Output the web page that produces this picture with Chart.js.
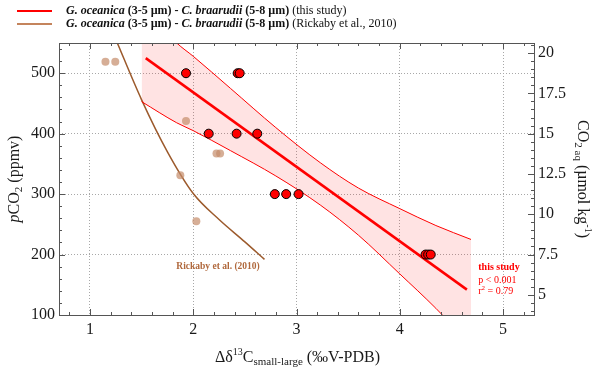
<!DOCTYPE html>
<html lang="en">
<head>
  <meta charset="UTF-8">
  <title>pCO2 vs d13C offset</title>
  <style>
    html, body { margin: 0; padding: 0; background: #fff; }
  </style>
</head>
<body>
  <div>
    <canvas id="myChart" width="600" height="367"></canvas>
  </div>

  <script src="https://cdn.jsdelivr.net/npm/chart.js"></script>

  <script>
    // this study: G. oceanica - C. braarudii offsets
    const studyX = [1.93, 2.43, 2.45, 2.15, 2.42, 2.62, 2.79, 2.90, 3.02, 4.25, 4.275, 4.30];
    const studyY = [500, 500, 500, 400, 400, 400, 300, 300, 300, 200, 200, 200];

    // regression line + confidence band
    const fitX = [1.54, 4.65];
    const fitY = [525, 142];
    const bandX = [1.5, 1.84, 2.0, 2.36, 2.8, 3.23, 3.6, 4.0, 4.35, 4.69];
    const bandUpper = [612, 550, 528, 475, 410, 352, 310, 276, 248, 225];
    const bandLower = [453, 418, 405, 372, 330, 282, 232, 168, 111, 50];

    // Rickaby et al. 2010
    const rickX = [1.15, 1.245, 1.93, 2.225, 2.26, 1.875, 2.03];
    const rickY = [519, 519, 421, 367, 367, 331, 255];
    const rickCurveX = [1.25, 1.5, 1.75, 2.0, 2.25, 2.5, 2.69];
    const rickCurveY = [556, 456, 370, 301, 258, 221, 192];

    // axes
    const xTicks = [1, 2, 3, 4, 5];
    const yTicks = [100, 200, 300, 400, 500];
    const y1Ticks = [5, 7.5, 10, 12.5, 15, 17.5, 20];

    const SERIF = '"Liberation Serif", "Times New Roman", serif';
    const RED = '#ff0000';
    const BROWN = '#9c5a2c';

    const pts = (xs, ys) => xs.map((x, i) => ({ x: x, y: ys[i] }));

    function drawRich(ctx, runs, x, y, align) {
      let total = 0;
      runs.forEach(r => { ctx.font = r.f; r.w = ctx.measureText(r.t).width; total += r.w; });
      let cx = align === 'center' ? x - total / 2 : x;
      runs.forEach(r => {
        ctx.font = r.f;
        ctx.fillText(r.t, cx, y + (r.dy || 0));
        cx += r.w;
      });
    }

    const decor = {
      id: 'decor',
      afterDraw(chart) {
        const ctx = chart.ctx;
        const a = chart.chartArea;
        const sx = chart.scales.x, sy = chart.scales.y, sy1 = chart.scales.y1;
        ctx.save();
        ctx.strokeStyle = '#555';
        ctx.lineWidth = 1;

        // inward ticks
        ctx.beginPath();
        for (let v = 0.8; v < 5.3; v += 0.2) {
          const px = Math.round(sx.getPixelForValue(v)) + 0.5;
          const len = Math.abs(v - Math.round(v)) < 0.01 ? 6 : 3;
          ctx.moveTo(px, a.bottom); ctx.lineTo(px, a.bottom - len);
          ctx.moveTo(px, a.top); ctx.lineTo(px, a.top + len);
        }
        for (let v = 120; v < 550; v += 20) {
          const py = Math.round(sy.getPixelForValue(v)) + 0.5;
          const len = v % 100 === 0 ? 6 : 3;
          ctx.moveTo(a.left, py); ctx.lineTo(a.left + len, py);
        }
        for (let v = 4; v <= 20.5; v += 0.5) {
          const py = Math.round(sy1.getPixelForValue(v)) + 0.5;
          const len = Math.abs(v / 2.5 - Math.round(v / 2.5)) < 0.01 ? 6 : 3;
          ctx.moveTo(a.right, py); ctx.lineTo(a.right - len, py);
        }
        ctx.stroke();

        // frame
        ctx.strokeRect(Math.round(a.left) + 0.5, Math.round(a.top) + 0.5,
          Math.round(a.right - a.left), Math.round(a.bottom - a.top));

        // axis titles
        ctx.fillStyle = '#1a1a1a';
        ctx.textBaseline = 'middle';
        ctx.save();
        ctx.translate(15, (a.top + a.bottom) / 2);
        ctx.rotate(-Math.PI / 2);
        drawRich(ctx, [
          { t: 'p', f: 'italic 16px ' + SERIF },
          { t: 'CO', f: '16px ' + SERIF },
          { t: '2', f: '11px ' + SERIF, dy: 4 },
          { t: ' (ppmv)', f: '16px ' + SERIF }
        ], 0, 0, 'center');
        ctx.restore();

        ctx.save();
        ctx.translate(582, (a.top + a.bottom) / 2);
        ctx.rotate(Math.PI / 2);
        drawRich(ctx, [
          { t: 'CO', f: '16px ' + SERIF },
          { t: '2 aq', f: '11px ' + SERIF, dy: 4 },
          { t: ' (µmol kg', f: '16px ' + SERIF },
          { t: '-1', f: '10px ' + SERIF, dy: -6 },
          { t: ')', f: '16px ' + SERIF }
        ], 0, 0, 'center');
        ctx.restore();

        drawRich(ctx, [
          { t: 'Δδ', f: '16px ' + SERIF },
          { t: '13', f: '10px ' + SERIF, dy: -6 },
          { t: 'C', f: '16px ' + SERIF },
          { t: 'small-large', f: '11px ' + SERIF, dy: 4 },
          { t: ' (‰V-PDB)', f: '16px ' + SERIF }
        ], (a.left + a.right) / 2 + 1, 358, 'center');

        // in-plot labels
        ctx.fillStyle = '#b0683c';
        ctx.font = 'bold 9.5px ' + SERIF;
        ctx.textAlign = 'center';
        ctx.fillText('Rickaby et al. (2010)', sx.getPixelForValue(2.24), sy.getPixelForValue(180));
        ctx.textAlign = 'left';
        ctx.fillStyle = RED;
        const lx = sx.getPixelForValue(4.76);
        ctx.font = 'bold 10px ' + SERIF;
        ctx.fillText('this study', lx, sy.getPixelForValue(179));
        drawRich(ctx, [{ t: 'p < 0.001', f: '10px ' + SERIF }], lx, sy.getPixelForValue(158), 'left');
        drawRich(ctx, [
          { t: 'r', f: '10px ' + SERIF },
          { t: '2', f: '7px ' + SERIF, dy: -3 },
          { t: ' = 0.79', f: '10px ' + SERIF }
        ], lx, sy.getPixelForValue(139.5), 'left');

        // legend
        ctx.lineWidth = 2;
        ctx.strokeStyle = RED;
        ctx.beginPath(); ctx.moveTo(17, 11); ctx.lineTo(52, 11); ctx.stroke();
        ctx.strokeStyle = '#c4845c';
        ctx.beginPath(); ctx.moveTo(17, 24); ctx.lineTo(52, 24); ctx.stroke();
        ctx.fillStyle = '#111';
        const legRuns = tail => [
          { t: 'G. oceanica', f: 'italic bold 12px ' + SERIF },
          { t: ' (3-5 µm) - ', f: 'bold 12px ' + SERIF },
          { t: 'C. braarudii', f: 'italic bold 12px ' + SERIF },
          { t: ' (5-8 µm)', f: 'bold 12px ' + SERIF },
          { t: tail, f: '12px ' + SERIF }
        ];
        drawRich(ctx, legRuns(' (this study)'), 66, 11, 'left');
        drawRich(ctx, legRuns(' (Rickaby et al., 2010)'), 66, 24, 'left');
        ctx.restore();
      }
    };

    const ctx = document.getElementById('myChart').getContext('2d');

    let chart = new Chart(ctx, {
      type: 'scatter',
      plugins: [decor],
      data: {
        datasets: [
          {
            label: 'upper',
            data: pts(bandX, bandUpper),
            showLine: true,
            pointRadius: 0,
            borderColor: RED,
            borderWidth: 1,
            cubicInterpolationMode: 'monotone',
            backgroundColor: 'rgba(255, 0, 0, 0.11)',
            fill: '+1',
            order: 3
          },
          {
            label: 'lower',
            data: pts(bandX, bandLower),
            showLine: true,
            pointRadius: 0,
            borderColor: RED,
            borderWidth: 1,
            cubicInterpolationMode: 'monotone',
            fill: false,
            order: 3
          },
          {
            label: 'fit',
            data: pts(fitX, fitY),
            showLine: true,
            pointRadius: 0,
            borderColor: RED,
            borderWidth: 2.5,
            fill: false,
            order: 2
          },
          {
            label: 'Rickaby curve',
            data: pts(rickCurveX, rickCurveY),
            showLine: true,
            pointRadius: 0,
            borderColor: BROWN,
            borderWidth: 1.5,
            cubicInterpolationMode: 'monotone',
            fill: false,
            order: 4
          },
          {
            label: 'Rickaby et al., 2010',
            data: pts(rickX, rickY),
            pointRadius: 4,
            pointBackgroundColor: 'rgba(196, 140, 106, 0.7)',
            pointBorderWidth: 0,
            order: 1
          },
          {
            label: 'this study',
            data: pts(studyX, studyY),
            pointRadius: 4.5,
            pointBackgroundColor: RED,
            pointBorderColor: '#000',
            pointBorderWidth: 1,
            order: 0
          }
        ]
      },
      options: {
        responsive: false,
        animation: false,
        devicePixelRatio: 1,
        layout: { padding: { top: 43, left: 0, right: 0, bottom: 0 } },
        plugins: {
          legend: { display: false },
          tooltip: { enabled: false }
        },
        scales: {
          x: {
            type: 'linear',
            min: 0.7,
            max: 5.3,
            afterBuildTicks: s => { s.ticks = xTicks.map(v => ({ value: v })); },
            afterFit: s => { s.height = 52; },
            grid: { color: '#a8a8a8', drawTicks: false },
            border: { display: false, dash: [1, 2] },
            ticks: { padding: 5, color: '#1a1a1a', font: { family: SERIF, size: 16 }, callback: v => String(v) }
          },
          y: {
            position: 'left',
            min: 100,
            max: 550,
            afterBuildTicks: s => { s.ticks = yTicks.map(v => ({ value: v })); },
            afterFit: s => { s.width = 59; },
            grid: { color: '#a8a8a8', drawTicks: false },
            border: { display: false, dash: [1, 2] },
            ticks: { padding: 4, color: '#1a1a1a', font: { family: SERIF, size: 16 }, callback: v => String(v) }
          },
          y1: {
            position: 'right',
            min: 3.75,
            max: 20.625,
            afterBuildTicks: s => { s.ticks = y1Ticks.map(v => ({ value: v })); },
            afterFit: s => { s.width = 66; },
            grid: { display: false, drawTicks: false },
            border: { display: false },
            ticks: { padding: 4, color: '#1a1a1a', font: { family: SERIF, size: 16 }, callback: v => String(v) }
          }
        }
      }
    });
  </script>
</body>
</html>
